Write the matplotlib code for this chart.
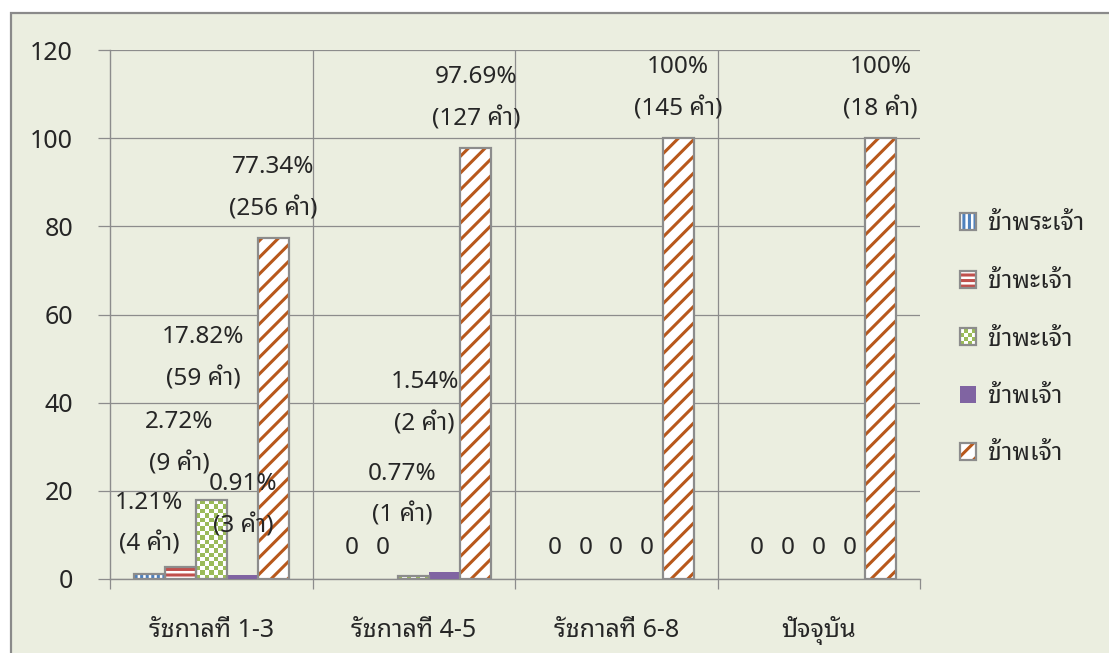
import matplotlib
matplotlib.use("Agg")
import matplotlib.pyplot as plt
import numpy as np
from matplotlib import font_manager
from matplotlib.colors import ListedColormap
from matplotlib.legend_handler import HandlerBase, HandlerTuple
from matplotlib.patches import Rectangle


def pick_font(names):
    for name in names:
        try:
            font_manager.findfont(name, fallback_to_default=False)
            return name
        except ValueError:
            continue
    return "DejaVu Sans"


thai_font = pick_font(["Noto Sans Thai Looped", "Sarabun", "Noto Sans Thai", "Anuphan"])
plt.rcParams["font.family"] = ["Noto Sans", thai_font, "DejaVu Sans"]
plt.rcParams["hatch.linewidth"] = 2.2

categories = ["รัชกาลที่ 1-3", "รัชกาลที่ 4-5", "รัชกาลที่ 6-8", "ปัจจุบัน"]
series_names = ["ข้าพระเจ้า", "ข้าพะเจ้า", "ข้าพะเจ้า", "ข้าพเจ้า", "ข้าพเจ้า"]

# share of each spelling per period (%)
pct_kha_phra_chao = [1.21, 0, 0, 0]
pct_kha_pha_chao_a = [2.72, 0, 0, 0]
pct_kha_pha_chao_b = [17.82, 0.77, 0, 0]
pct_kha_pha_chao_c = [0.91, 1.54, 0, 0]
pct_kha_phachao = [77.34, 97.69, 100, 100]

# number of words behind each share
n_kha_phra_chao = [4, 0, 0, 0]
n_kha_pha_chao_a = [9, 0, 0, 0]
n_kha_pha_chao_b = [59, 1, 0, 0]
n_kha_pha_chao_c = [3, 2, 0, 0]
n_kha_phachao = [256, 127, 145, 18]

pct_all = [pct_kha_phra_chao, pct_kha_pha_chao_a, pct_kha_pha_chao_b,
           pct_kha_pha_chao_c, pct_kha_phachao]
n_all = [n_kha_phra_chao, n_kha_pha_chao_a, n_kha_pha_chao_b,
         n_kha_pha_chao_c, n_kha_phachao]

BLUE = "#4F81BD"
RED = "#C0504D"
GREEN = "#9BBB59"
PURPLE = "#8064A2"
BROWN = "#B8581B"
EDGE = "#8C8C8C"
GRID = "#8C8C8C"
TEXT = "#262626"
BG = "#EBEEE0"
LABEL_SIZE = 17.5

# (fill, hatch colour, hatch) per series; None hatch = solid, "checker" = drawn by hand
styles = [
    ("white", BLUE, "|||"),
    ("white", RED, "---"),
    ("white", GREEN, "checker"),
    (PURPLE, PURPLE, None),
    ("white", BROWN, "//"),
]

# labels that were dragged off their default spot: (series, period) -> (dx, dy) pixels
label_shift = {
    (1, 0): (-1, 74),
    (2, 0): (-8, 92),
    (3, 0): (1, 20),
    (2, 1): (-12, 31),
    (3, 1): (-20, 119),
}

fig = plt.figure(figsize=(11.09, 6.53), dpi=100, facecolor="white")
fig.patches.append(Rectangle((11 / 1109, -0.05), 1.1, 1.05 - 13 / 653,
                             transform=fig.transFigure, facecolor=BG,
                             edgecolor="#8A8A8A", linewidth=1.6, zorder=-5))
ax = fig.add_axes([110 / 1109, 1 - 579 / 653, 810 / 1109, 529 / 653])
ax.set_facecolor("none")

x = np.arange(len(categories))
width = 0.153
ax.set_xlim(-0.5, len(categories) - 0.5)
ax.set_ylim(0, 120)


class CheckerHandler(HandlerBase):
    def create_artists(self, legend, orig_handle, xdescent, ydescent,
                       width, height, fontsize, trans):
        n = 4
        artists = []
        for r in range(n):
            for c in range(n):
                color = GREEN if (r + c) % 2 == 0 else "white"
                artists.append(Rectangle((-xdescent + c * width / n, -ydescent + r * height / n),
                                         width / n, height / n, facecolor=color,
                                         edgecolor="none", transform=trans))
        artists.append(Rectangle((-xdescent, -ydescent), width, height, fill=False,
                                 edgecolor=EDGE, linewidth=1.6, transform=trans))
        return artists


checker_cmap = ListedColormap([GREEN, "white"])
handles = []
handler_map = {}
for i, (vals, counts) in enumerate(zip(pct_all, n_all)):
    face, hcolor, hatch = styles[i]
    pos = x + (i - 2) * width
    edge_lw = [1.6 if v > 0 else 0 for v in vals]
    if hatch is None:
        ax.bar(pos, vals, width, color=face, linewidth=0, zorder=3)
        proxy = Rectangle((0, 0), 1, 1, facecolor=face, edgecolor="none")
        handles.append(proxy)
    elif hatch == "checker":
        bars = ax.bar(pos, vals, width, color="white", linewidth=0, zorder=3)
        for b, v in zip(bars, vals):
            if v <= 0:
                continue
            x0, y0 = b.get_x(), b.get_y()
            x1, y1 = x0 + b.get_width(), y0 + b.get_height()
            p0 = ax.transData.transform((x0, y0))
            p1 = ax.transData.transform((x1, y1))
            cols = max(1, int(round((p1[0] - p0[0]) / 4.3)))
            rows = max(1, int(round((p1[1] - p0[1]) / 4.3)))
            board = np.indices((rows, cols)).sum(axis=0) % 2
            im = ax.imshow(board, extent=(x0, x1, y0, y1), cmap=checker_cmap,
                           interpolation="nearest", aspect="auto", zorder=3.5,
                           origin="lower")
            im.set_clip_path(b)
        ax.bar(pos, vals, width, fill=False, edgecolor=EDGE, linewidth=edge_lw, zorder=4)
        proxy = Rectangle((0, 0), 1, 1)
        handles.append(proxy)
        handler_map[proxy] = CheckerHandler()
    else:
        ax.bar(pos, vals, width, color=face, edgecolor=hcolor, hatch=hatch,
               linewidth=0, zorder=3)
        ax.bar(pos, vals, width, fill=False, edgecolor=EDGE, linewidth=edge_lw, zorder=4)
        pa = Rectangle((0, 0), 1, 1, facecolor=face, edgecolor=hcolor, hatch=hatch,
                       linewidth=0)
        pb = Rectangle((0, 0), 1, 1, fill=False, edgecolor=EDGE, linewidth=1.6)
        handles.append((pa, pb))
        handler_map[handles[-1]] = HandlerTuple(ndivide=1, pad=0)

    # value labels: "pct%" over "(n คำ)", or just "0"
    for j, (v, n) in enumerate(zip(vals, counts)):
        if v == 0:
            ax.annotate("0", xy=(pos[j], v), xytext=(0, 31), textcoords="offset pixels",
                        ha="center", va="center", fontsize=LABEL_SIZE, color=TEXT, zorder=6)
            continue
        dx, dy = label_shift.get((i, j), (0, 0))
        ax.annotate(f"{v:g}%", xy=(pos[j], v), xytext=(dx, 71 + dy),
                    textcoords="offset pixels", ha="center", va="center",
                    fontsize=LABEL_SIZE, color=TEXT, zorder=6)
        ax.annotate(f"({n} คำ)", xy=(pos[j], v), xytext=(dx, 29 + dy),
                    textcoords="offset pixels", ha="center", va="center",
                    fontsize=LABEL_SIZE, color=TEXT, zorder=6)

ax.set_xlim(-0.5, len(categories) - 0.5)
ax.set_ylim(0, 120)

# axes, grid and ticks
ax.set_yticks(np.arange(0, 121, 20))
ax.yaxis.grid(True, color=GRID, linewidth=0.9, zorder=0)
for b in x[:-1] + 0.5:
    ax.axvline(b, color=GRID, linewidth=0.9, zorder=0)
ax.set_axisbelow(True)
for side in ("top", "right"):
    ax.spines[side].set_visible(False)
for side in ("left", "bottom"):
    ax.spines[side].set_color(GRID)
    ax.spines[side].set_linewidth(1.0)
ax.tick_params(axis="y", length=8.6, color=GRID, width=0.9, pad=18,
               labelsize=18, labelcolor=TEXT)
ax.set_xticks(x)
ax.set_xticklabels(categories)
ax.set_xticks(np.arange(-0.5, len(categories)), minor=True)
ax.tick_params(axis="x", which="major", length=0, pad=42, labelsize=18, labelcolor=TEXT)
ax.tick_params(axis="x", which="minor", length=7.5, color=GRID, width=0.9)
for lbl in ax.get_xticklabels():
    lbl.set_verticalalignment("baseline")

fig.legend(handles, series_names, handler_map=handler_map,
           loc="center left", bbox_to_anchor=(947 / 1109, 1 - 339 / 653),
           frameon=False, fontsize=18, handlelength=0.65, handleheight=0.65,
           handletextpad=0.5, labelspacing=1.3, borderpad=0, labelcolor=TEXT)

fig.savefig("out.png", dpi=100, facecolor="white")
